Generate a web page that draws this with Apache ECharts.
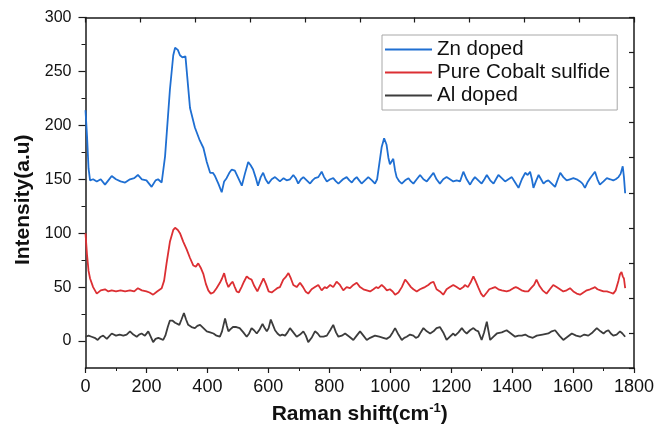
<!DOCTYPE html>
<html>
<head>
<meta charset="utf-8">
<script src="https://cdn.jsdelivr.net/npm/echarts@6/dist/echarts.min.js"></script>
<style>
  html, body { margin: 0; padding: 0; background: #fff; }
  #chart { width: 655px; height: 424px; }
</style>
</head>
<body>
<div id="chart"></div>
<script>
// Raman spectra: x = Raman shift (cm-1), y = intensity (a.u.)
const znShift = [0,5,10,15,25,37,50,64,75,86,100,115,130,146,160,172,185,200,217,230,238,250,261,277,288,294,303,310,318,323,328,343,359,375,387,398,409,418,425,436,447,455,463,472,480,490,500,513,523,534,542,550,558,566,575,583,591,600,611,622,638,650,660,671,682,690,698,707,715,726,737,745,753,764,775,783,792,803,813,822,830,845,857,866,874,882,890,898,906,917,928,940,950,957,964,972,980,988,994,999,1004,1010,1016,1021,1030,1038,1049,1060,1068,1076,1087,1098,1109,1120,1131,1142,1152,1163,1174,1185,1196,1207,1218,1229,1240,1251,1262,1270,1278,1289,1300,1309,1317,1328,1339,1347,1355,1366,1377,1388,1399,1410,1421,1432,1443,1451,1459,1465,1470,1478,1487,1495,1503,1511,1519,1530,1541,1550,1558,1568,1579,1590,1601,1612,1623,1631,1639,1647,1656,1664,1672,1680,1688,1700,1711,1722,1732,1740,1749,1756,1763,1767,1771];
const znIntensity = [214,190,160,149,150,148,150,145,149,153,150,148,147,150,151,154,150,149,143,149,150,147,171,233,265,272,270,265,263,262,264,216,198,186,179,166,156,156,153,146,138,148,151,156,159,158,152,144,155,166,163,159,152,144,152,156,150,146,150,152,148,151,149,150,154,151,146,150,152,149,146,149,151,152,157,152,148,150,151,148,146,150,152,149,147,150,152,149,146,149,152,149,146,150,164,180,188,182,170,164,165,169,158,152,148,146,149,151,148,146,150,154,150,148,152,156,150,146,150,152,150,148,149,148,157,150,145,149,152,149,146,150,154,149,146,150,154,151,148,150,152,147,142,150,156,154,157,150,142,148,154,150,146,148,149,146,143,150,156,152,149,150,151,150,148,146,142,147,151,154,157,150,145,148,151,150,149,150,152,155,162,152,137];

const coShift = [0,5,10,15,25,37,50,64,75,86,100,115,130,146,160,172,185,200,210,222,235,250,258,266,277,288,294,303,310,321,332,343,354,362,370,378,387,395,403,411,420,430,441,448,455,462,469,476,483,490,496,503,512,520,529,537,545,554,564,574,584,592,601,611,620,629,638,649,656,666,674,682,693,704,714,722,731,742,753,764,775,785,792,803,813,824,835,846,857,868,879,890,901,912,923,934,945,954,961,972,980,989,999,1008,1016,1027,1038,1049,1055,1060,1068,1076,1087,1098,1106,1114,1125,1133,1142,1152,1163,1174,1185,1196,1207,1218,1229,1240,1245,1255,1265,1273,1281,1290,1298,1306,1317,1325,1335,1344,1355,1366,1382,1393,1404,1412,1420,1431,1442,1453,1462,1472,1480,1490,1500,1513,1524,1535,1546,1557,1568,1579,1590,1601,1612,1623,1634,1645,1656,1665,1672,1680,1690,1700,1711,1722,1732,1740,1749,1754,1759,1763,1767,1771];
const coIntensity = [100,80,65,58,50,44,47,48,46,47,46,47,46,47,46,49,47,46,45,43,46,49,56,72,92,103,105,103,100,92,85,77,70,69,72,68,62,53,47,44,45,49,54,58,63,55,50,53,55,50,46,45,50,55,60,58,57,51,46,52,58,53,46,45,47,49,50,57,59,63,58,52,50,54,50,46,44,48,50,52,47,50,49,52,50,55,52,47,50,49,52,54,50,48,47,46,48,50,49,52,50,47,48,46,43,45,50,57,55,54,50,48,46,48,49,50,52,54,55,48,46,43,48,50,52,50,48,50,52,50,55,60,55,49,44,41,45,48,49,50,48,47,46,47,49,50,49,47,46,46,49,52,57,51,47,44,48,52,50,48,46,47,49,46,44,43,45,47,48,49,50,48,47,46,46,45,44,47,56,62,64,60,58,49];

const alShift = [0,10,20,30,40,50,58,70,86,100,112,124,135,146,157,168,176,184,195,206,214,222,230,239,247,255,262,270,277,285,294,300,308,315,323,330,337,348,359,367,376,387,398,409,420,430,441,448,458,464,469,476,484,495,506,518,529,537,545,553,562,572,581,588,595,601,608,615,622,630,638,646,655,663,671,682,693,704,715,723,731,742,753,762,770,781,792,803,813,822,830,841,852,866,879,890,901,912,923,934,950,964,977,988,999,1008,1016,1027,1038,1046,1054,1065,1076,1084,1092,1100,1109,1120,1131,1142,1152,1163,1174,1185,1196,1207,1213,1224,1235,1243,1251,1262,1273,1281,1289,1300,1308,1317,1322,1328,1339,1350,1366,1382,1396,1410,1421,1432,1443,1455,1468,1481,1500,1519,1530,1541,1555,1568,1582,1596,1610,1623,1637,1650,1664,1678,1690,1700,1708,1716,1724,1732,1743,1754,1762,1771];
const alIntensity = [4,5,4,3,1,4,5,2,7,5,6,5,6,9,6,4,6,7,5,9,4,-1,2,3,2,1,5,13,19,19,17,16,15,20,26,20,15,13,12,14,15,12,9,8,7,5,4,9,21,14,9,11,13,13,12,8,4,7,12,10,7,11,16,12,9,12,20,15,10,7,5,6,5,8,12,8,4,6,9,5,-1,3,9,7,4,4,5,10,15,8,4,5,7,4,1,5,9,5,1,3,5,4,3,2,4,8,12,6,1,3,4,6,5,3,4,8,12,9,7,9,12,13,8,1,4,7,5,8,12,9,7,10,12,10,9,1,8,18,10,1,4,7,8,10,7,4,5,5,6,4,3,5,6,7,9,10,5,1,4,7,5,4,6,5,8,12,9,7,9,10,7,5,6,9,7,4];

const seriesNames = ['Zn doped', 'Pure Cobalt sulfide', 'Al doped'];
const seriesColors = ['#1f6fd2', '#dc2f33', '#3c3c3c'];

const yLabelValues = [0, 50, 100, 150, 200, 250, 300];
const yMinorValues = [25, 75, 125, 175, 225, 275];

const pairs = (xs, ys) => xs.map((x, i) => [x, ys[i]]);

const axisColor = '#1a1a1a';
const fontFamily = 'Liberation Sans, Arial, sans-serif';

const chart = echarts.init(document.getElementById('chart'), null, { renderer: 'canvas' });

chart.setOption({
  animation: false,
  backgroundColor: '#ffffff',
  grid: { left: 85.5, right: 21, top: 17.5, bottom: 56, containLabel: false, outerBoundsMode: 'none' },
  legend: {
    orient: 'vertical',
    left: 382,
    top: 35,
    padding: [4, 7, 4, 3],
    borderColor: '#a8a8a8',
    borderWidth: 1,
    icon: 'rect',
    itemWidth: 47,
    itemHeight: 2,
    itemGap: 2,
    textStyle: { fontFamily, fontSize: 20.5, color: '#111', lineHeight: 20 },
    data: seriesNames
  },
  xAxis: [
    {
      type: 'value',
      min: 0, max: 1800, interval: 200,
      position: 'bottom',
      axisLine: { show: true, onZero: false, lineStyle: { color: axisColor, width: 1.5 } },
      axisTick: { show: true, inside: false, length: 5, lineStyle: { color: axisColor, width: 1.2 } },
      minorTick: { show: true, splitNumber: 2, length: 3, lineStyle: { color: axisColor, width: 1 } },
      axisLabel: { fontFamily, fontSize: 18, color: '#111', margin: 10, formatter: v => String(v) },
      splitLine: { show: false },
      name: '{t|Raman shift(cm}{s|-1}{t|)}',
      nameLocation: 'middle',
      nameGap: 34,
      nameTextStyle: {
        rich: {
          t: { fontFamily, fontSize: 21, fontWeight: 'bold', color: '#111' },
          s: { fontFamily, fontSize: 13, fontWeight: 'bold', color: '#111', padding: [0, 0, 12, 0] }
        }
      }
    },
    {
      type: 'value',
      min: 0, max: 10, interval: 1,
      position: 'top',
      axisLine: { show: true, onZero: false, lineStyle: { color: axisColor, width: 1.5 } },
      axisTick: { show: true, inside: true, length: 5, lineStyle: { color: axisColor, width: 1.2 } },
      axisLabel: { show: false },
      splitLine: { show: false }
    }
  ],
  yAxis: [
    {
      type: 'value',
      min: -25, max: 300,
      position: 'left',
      axisLine: { show: true, onZero: false, lineStyle: { color: axisColor, width: 1.5 } },
      axisTick: { show: true, inside: false, length: 7, customValues: yLabelValues, lineStyle: { color: axisColor, width: 1.2 } },
      axisLabel: { fontFamily, fontSize: 16, color: '#111', margin: 14, customValues: yLabelValues },
      splitLine: { show: false },
      name: 'Intensity(a.u)',
      nameLocation: 'middle',
      nameGap: 52,
      nameTextStyle: { fontFamily, fontSize: 21, fontWeight: 'bold', color: '#111', padding: [0, 14, 0, 0] }
    },
    {
      type: 'value',
      min: -25, max: 300,
      position: 'left',
      axisLine: { show: false, onZero: false },
      axisTick: { show: true, inside: false, length: 4, customValues: yMinorValues, lineStyle: { color: axisColor, width: 1 } },
      axisLabel: { show: false },
      splitLine: { show: false }
    },
    {
      type: 'value',
      min: 0, max: 10, interval: 1,
      position: 'right',
      axisLine: { show: true, onZero: false, lineStyle: { color: axisColor, width: 1.5 } },
      axisTick: { show: true, inside: true, length: 5, lineStyle: { color: axisColor, width: 1.2 } },
      axisLabel: { show: false },
      splitLine: { show: false }
    }
  ],
  series: [
    { name: seriesNames[0], data: pairs(znShift, znIntensity), color: seriesColors[0] },
    { name: seriesNames[1], data: pairs(coShift, coIntensity), color: seriesColors[1] },
    { name: seriesNames[2], data: pairs(alShift, alIntensity), color: seriesColors[2] }
  ].map(s => ({
    type: 'line',
    name: s.name,
    data: s.data,
    xAxisIndex: 0,
    yAxisIndex: 0,
    symbol: 'none',
    smooth: false,
    itemStyle: { color: s.color },
    lineStyle: { color: s.color, width: 1.8 }
  }))
});
</script>
</body>
</html>
